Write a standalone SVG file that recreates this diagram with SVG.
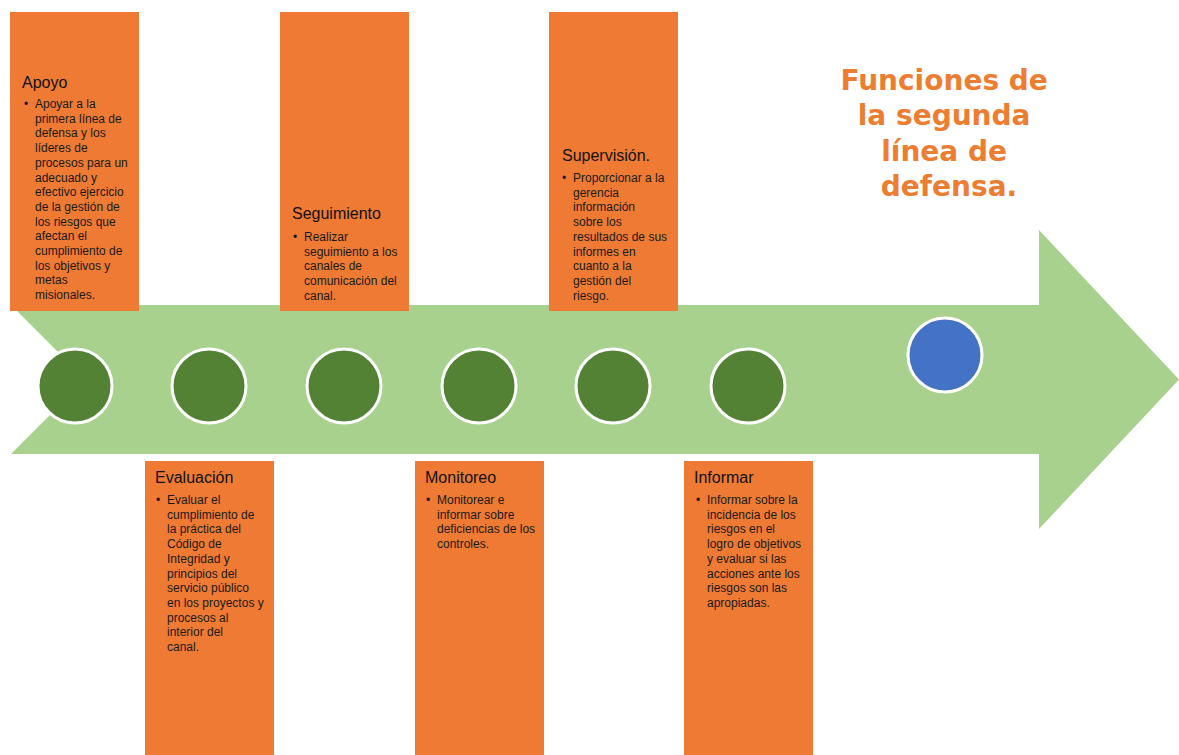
<svg xmlns="http://www.w3.org/2000/svg" width="1179" height="755" viewBox="0 0 1179 755">
<style>
.box{fill:#EE7A33}
.hd{font-family:"Liberation Sans",Arial,sans-serif;font-size:16px;fill:#111}
.tx{font-family:"Liberation Sans",Arial,sans-serif;font-size:12px;fill:#1a1a1a}
.dot{fill:#548235;stroke:#fff;stroke-width:3}
.title{font-family:"DejaVu Sans",sans-serif;font-weight:bold;font-size:28px;fill:#ED7D31;text-anchor:middle}
</style>
<rect width="1179" height="755" fill="#fff"/>
<g id="arrow">
<path d="M11,305 L1039,305 L1039,230 L1179,379.5 L1039,529 L1039,454 L11,454 L85.5,379.5 Z" fill="#A9D18E"/>
</g>
<g id="connectors"/>
<g id="apoyo">
<rect class="box" x="10" y="12" width="129" height="299"/>
<text class="hd" x="22" y="88">Apoyo</text>
<text class="tx" x="24" y="108">•</text>
<text class="tx">
<tspan x="35" y="108">Apoyar a la</tspan>
<tspan x="35" y="122.7">primera línea de</tspan>
<tspan x="35" y="137.4">defensa y los</tspan>
<tspan x="35" y="152.1">líderes de</tspan>
<tspan x="35" y="166.8">procesos para un</tspan>
<tspan x="35" y="181.5">adecuado y</tspan>
<tspan x="35" y="196.2">efectivo ejercicio</tspan>
<tspan x="35" y="210.9">de la gestión de</tspan>
<tspan x="35" y="225.6">los riesgos que</tspan>
<tspan x="35" y="240.3">afectan el</tspan>
<tspan x="35" y="255">cumplimiento de</tspan>
<tspan x="35" y="269.7">los objetivos y</tspan>
<tspan x="35" y="284.4">metas</tspan>
<tspan x="35" y="299.1">misionales.</tspan>
</text>
</g>
<g id="seguimiento">
<rect class="box" x="280" y="12" width="129" height="299"/>
<text class="hd" x="292" y="219">Seguimiento</text>
<text class="tx" x="293" y="241">•</text>
<text class="tx">
<tspan x="304" y="241">Realizar</tspan>
<tspan x="304" y="255.7">seguimiento a los</tspan>
<tspan x="304" y="270.4">canales de</tspan>
<tspan x="304" y="285.1">comunicación del</tspan>
<tspan x="304" y="299.8">canal.</tspan>
</text>
</g>
<g id="supervision">
<rect class="box" x="549" y="12" width="129" height="299"/>
<text class="hd" x="562" y="161">Supervisión.</text>
<text class="tx" x="562" y="182">•</text>
<text class="tx">
<tspan x="573" y="182">Proporcionar a la</tspan>
<tspan x="573" y="196.7">gerencia</tspan>
<tspan x="573" y="211.4">información</tspan>
<tspan x="573" y="226.1">sobre los</tspan>
<tspan x="573" y="240.8">resultados de sus</tspan>
<tspan x="573" y="255.5">informes en</tspan>
<tspan x="573" y="270.2">cuanto a la</tspan>
<tspan x="573" y="284.9">gestión del</tspan>
<tspan x="573" y="299.6">riesgo.</tspan>
</text>
</g>
<g id="evaluacion">
<rect class="box" x="145" y="461" width="129" height="294"/>
<text class="hd" x="155" y="483">Evaluación</text>
<text class="tx" x="156" y="504">•</text>
<text class="tx">
<tspan x="167" y="504">Evaluar el</tspan>
<tspan x="167" y="518.7">cumplimiento de</tspan>
<tspan x="167" y="533.4">la práctica del</tspan>
<tspan x="167" y="548.1">Código de</tspan>
<tspan x="167" y="562.8">Integridad y</tspan>
<tspan x="167" y="577.5">principios del</tspan>
<tspan x="167" y="592.2">servicio público</tspan>
<tspan x="167" y="606.9">en los proyectos y</tspan>
<tspan x="167" y="621.6">procesos al</tspan>
<tspan x="167" y="636.3">interior del</tspan>
<tspan x="167" y="651">canal.</tspan>
</text>
</g>
<g id="monitoreo">
<rect class="box" x="415" y="461" width="129" height="294"/>
<text class="hd" x="425" y="483">Monitoreo</text>
<text class="tx" x="426" y="504">•</text>
<text class="tx">
<tspan x="437" y="504">Monitorear e</tspan>
<tspan x="437" y="518.7">informar sobre</tspan>
<tspan x="437" y="533.4">deficiencias de los</tspan>
<tspan x="437" y="548.1">controles.</tspan>
</text>
</g>
<g id="informar">
<rect class="box" x="684" y="461" width="129" height="294"/>
<text class="hd" x="694" y="483">Informar</text>
<text class="tx" x="696" y="504">•</text>
<text class="tx">
<tspan x="707" y="504">Informar sobre la</tspan>
<tspan x="707" y="518.7">incidencia de los</tspan>
<tspan x="707" y="533.4">riesgos en el</tspan>
<tspan x="707" y="548.1">logro de objetivos</tspan>
<tspan x="707" y="562.8">y evaluar si las</tspan>
<tspan x="707" y="577.5">acciones ante los</tspan>
<tspan x="707" y="592.2">riesgos son las</tspan>
<tspan x="707" y="606.9">apropiadas.</tspan>
</text>
</g>
<g id="circle1"><circle class="dot" cx="75" cy="386" r="37"/></g>
<g id="circle2"><circle class="dot" cx="209" cy="386" r="37"/></g>
<g id="circle3"><circle class="dot" cx="344" cy="386" r="37"/></g>
<g id="circle4"><circle class="dot" cx="479" cy="386" r="37"/></g>
<g id="circle5"><circle class="dot" cx="613" cy="386" r="37"/></g>
<g id="circle6"><circle class="dot" cx="748" cy="386" r="37"/></g>
<g id="circle7"><circle cx="945" cy="355" r="37" fill="#4472C4" stroke="#fff" stroke-width="3"/></g>
<g id="title">
<text class="title">
<tspan x="949" y="90">Funciones de</tspan>
<tspan x="949" y="125">la segunda</tspan>
<tspan x="949" y="161">línea de</tspan>
<tspan x="949" y="196">defensa.</tspan>
</text>
</g>
</svg>
